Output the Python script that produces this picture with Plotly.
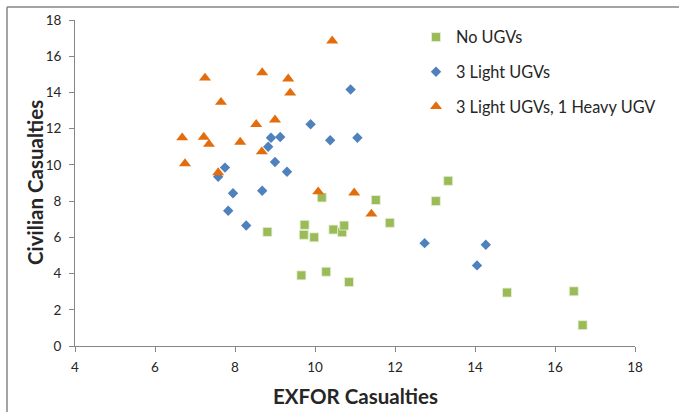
import plotly.graph_objects as go

# Data
no_ugv_x = [8.81, 9.72, 9.74, 9.98, 9.66, 10.28, 10.46, 10.17, 10.68, 10.73, 10.85, 11.87, 14.80, 16.47, 16.69, 13.33, 11.52, 13.02]
no_ugv_y = [6.30, 6.14, 6.69, 6.00, 3.90, 4.10, 6.43, 8.20, 6.28, 6.65, 3.53, 6.80, 2.95, 3.02, 1.15, 9.12, 8.06, 8.00]

light_x = [9.89, 10.38, 8.90, 9.13, 8.83, 9.00, 9.30, 7.75, 7.58, 7.95, 8.68, 7.83, 8.28, 10.89, 11.06, 12.74, 14.27, 14.05]
light_y = [12.24, 11.36, 11.50, 11.54, 11.00, 10.16, 9.62, 9.85, 9.34, 8.43, 8.57, 7.47, 6.65, 14.16, 11.50, 5.68, 5.59, 4.45]

heavy_x = [10.43, 7.25, 8.68, 9.33, 9.38, 7.65, 8.53, 9.00, 6.68, 7.22, 7.35, 8.13, 8.67, 6.75, 7.58, 10.08, 10.98, 11.41]
heavy_y = [16.85, 14.80, 15.10, 14.75, 13.97, 13.46, 12.24, 12.49, 11.50, 11.54, 11.14, 11.26, 10.73, 10.07, 9.58, 8.52, 8.46, 7.29]

series_names = ["No UGVs", "3 Light UGVs", "3 Light UGVs, 1 Heavy UGV"]
x_ticks = [4, 6, 8, 10, 12, 14, 16, 18]
y_ticks = [0, 2, 4, 6, 8, 10, 12, 14, 16, 18]

FONT = "Lato"
W, H = 679, 412
ML, MR, MT, MB = 75, 44, 18, 66
PW, PH = W - ML - MR, H - MT - MB

def px_x(p):
    return (p - ML) / PW

def px_y(p):
    return (H - MB - p) / PH

fig = go.Figure()
fig.add_trace(go.Scatter(
    x=no_ugv_x, y=no_ugv_y, mode="markers", name=series_names[0], legendgroup="a",
    marker=dict(symbol="square", size=9, color="#9BBB59", line=dict(color="#E8F0DA", width=0.8)),
))
fig.add_trace(go.Scatter(
    x=light_x, y=light_y, mode="markers", name=series_names[1], legendgroup="b",
    marker=dict(symbol="diamond", size=8, color="#4F81BD", line=dict(width=0)),
))
fig.add_trace(go.Scatter(
    x=heavy_x, y=heavy_y, mode="markers", name=series_names[2], legendgroup="c",
    marker=dict(symbol="triangle-up", size=10.5, color="#E46C0A", line=dict(width=0)),
))

axis_common = dict(
    showgrid=False, zeroline=False, showline=True, linecolor="#868686", linewidth=1,
    ticks="outside", ticklen=5, tickcolor="#868686", tickwidth=1,
    tickfont=dict(family=FONT, size=13.5, color="#262626"),
)

fig.update_layout(
    width=W, height=H,
    margin=dict(l=ML, r=MR, t=MT, b=MB),
    paper_bgcolor="white", plot_bgcolor="white",
    font=dict(family=FONT),
    xaxis=dict(range=[4, 18], tickvals=x_ticks, ticklabelstandoff=4, **axis_common),
    yaxis=dict(range=[0, 18], tickvals=y_ticks, ticklabelstandoff=5, **axis_common),
    showlegend=True,
    legend=dict(
        x=px_x(416), y=px_y(18), xanchor="left", yanchor="top",
        font=dict(family=FONT, size=16.3, color="#262626"),
        traceorder="grouped", tracegroupgap=10.5, itemwidth=30,
        bgcolor="rgba(0,0,0,0)",
    ),
    annotations=[
        dict(text="<b>EXFOR Casualties</b>", x=px_x(355), y=px_y(396), xref="paper", yref="paper",
             showarrow=False, xanchor="center", yanchor="middle",
             font=dict(family=FONT, size=20.5, color="#262626")),
        dict(text="<b>Civilian Casualties</b>", x=px_x(35), y=px_y(182), xref="paper", yref="paper",
             showarrow=False, xanchor="center", yanchor="middle", textangle=-90,
             font=dict(family=FONT, size=20.5, color="#262626")),
    ],
    shapes=[
        dict(type="line", xref="paper", yref="paper", x0=px_x(7), x1=px_x(W + 2), y0=px_y(5), y1=px_y(5),
             line=dict(color="#868686", width=1.5)),
        dict(type="line", xref="paper", yref="paper", x0=px_x(7), x1=px_x(7), y0=px_y(5), y1=px_y(H + 2),
             line=dict(color="#868686", width=1.5)),
    ],
)

fig.write_html("out.html")
